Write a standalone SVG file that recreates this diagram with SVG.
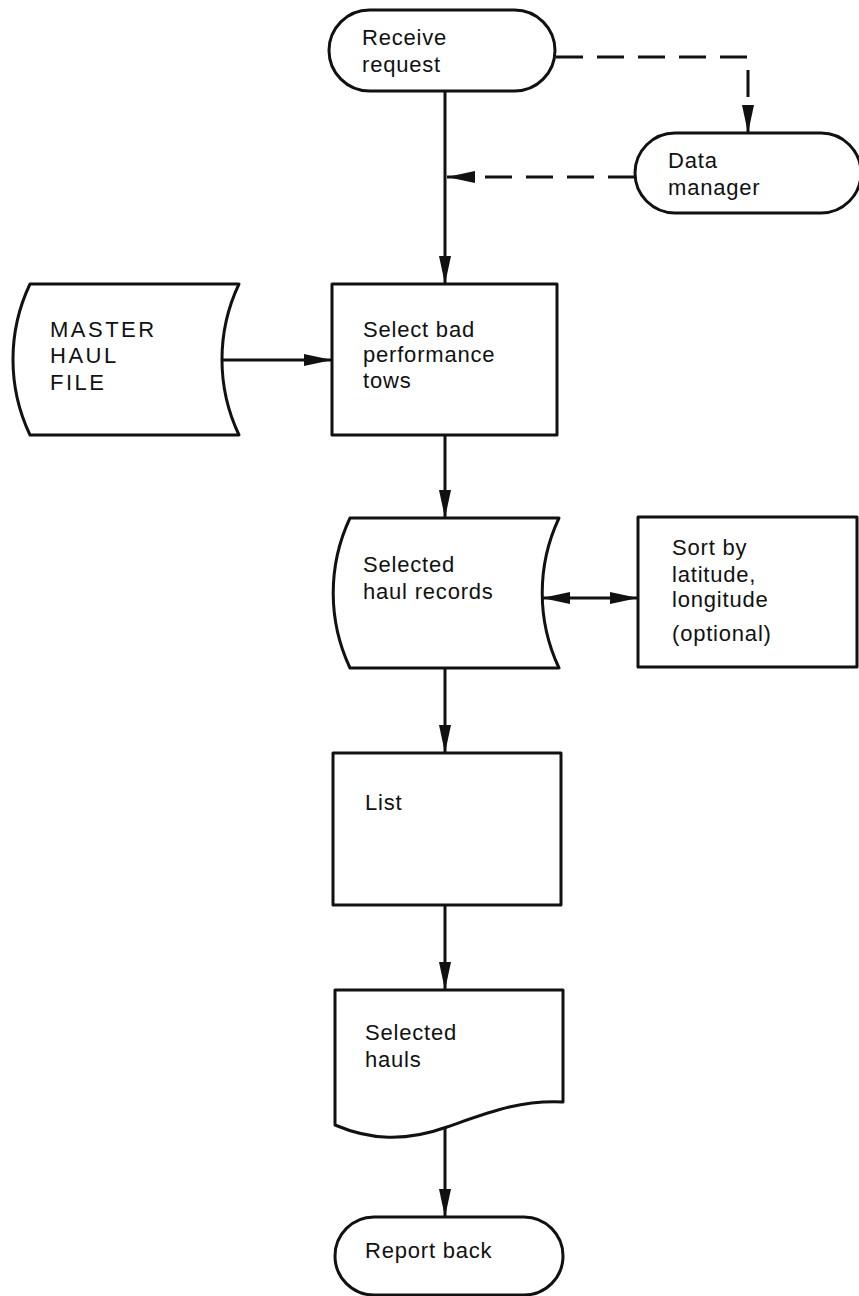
<svg xmlns="http://www.w3.org/2000/svg" width="859" height="1296" viewBox="0 0 859 1296">
<style>
.s{fill:#fff;stroke:#111;stroke-width:3;stroke-linejoin:round}
.t{font-family:"Liberation Sans",Arial,sans-serif;font-size:22px;letter-spacing:0.8px;fill:#111}
.caps{letter-spacing:2.5px}
.c{fill:none;stroke:#111;stroke-width:3}
.d{stroke-dasharray:27 14}
</style>
<defs>
<marker id="ah" markerUnits="userSpaceOnUse" markerWidth="28" markerHeight="12" refX="28" refY="6" orient="auto-start-reverse">
<path d="M0,0 L28,6 L0,12 Z" fill="#111"/>
</marker>
</defs>
<rect width="859" height="1296" fill="#fff"/>
<g id="connectors">
<path class="c" d="M445,91 V284" marker-end="url(#ah)"/>
<path class="c" d="M222,360 H332" marker-end="url(#ah)"/>
<path class="c" d="M445,435 V518" marker-end="url(#ah)"/>
<path class="c" d="M542,598 H638" marker-start="url(#ah)" marker-end="url(#ah)"/>
<path class="c" d="M445,668 V753" marker-end="url(#ah)"/>
<path class="c" d="M445,905 V990" marker-end="url(#ah)"/>
<path class="c" d="M445,1127 V1217" marker-end="url(#ah)"/>
<path class="c d" d="M556,57 H748 V133" marker-end="url(#ah)"/>
<path class="c d" d="M635,177 H447" marker-end="url(#ah)"/>
</g>
<g id="receive">
<rect class="s" x="329" y="10" width="226" height="81" rx="40.5"/>
<text class="t" x="362" y="45">Receive</text>
<text class="t" x="362" y="72">request</text>
</g>
<g id="datamanager">
<rect class="s" x="635" y="133" width="226" height="80" rx="40"/>
<text class="t" x="668" y="168">Data</text>
<text class="t" x="668" y="195">manager</text>
</g>
<g id="masterfile">
<path class="s" d="M30,284 H239 A176,176 0 0,0 239,435 H30 A176,176 0 0,1 30,284 Z"/>
<text class="t caps" x="50" y="337">MASTER</text>
<text class="t caps" x="50" y="363">HAUL</text>
<text class="t caps" x="50" y="390">FILE</text>
</g>
<g id="selectbad">
<rect class="s" x="332" y="284" width="225" height="151"/>
<text class="t" x="363" y="337">Select bad</text>
<text class="t" x="363" y="362">performance</text>
<text class="t" x="363" y="388">tows</text>
</g>
<g id="selectedrecords">
<path class="s" d="M350,518 H559 A176,176 0 0,0 559,668 H350 A176,176 0 0,1 350,518 Z"/>
<text class="t" x="363" y="572">Selected</text>
<text class="t" x="363" y="599">haul records</text>
</g>
<g id="sort">
<rect class="s" x="638" y="517" width="219" height="150"/>
<text class="t" x="672" y="555">Sort by</text>
<text class="t" x="672" y="582">latitude,</text>
<text class="t" x="672" y="607">longitude</text>
<text class="t" x="672" y="641">(optional)</text>
</g>
<g id="list">
<rect class="s" x="333" y="753" width="228" height="152"/>
<text class="t" x="365" y="810">List</text>
</g>
<g id="selectedhauls">
<path class="s" d="M335,990 H563 V1102 C520,1100 490,1112 447,1127 C405,1142 370,1140 335,1125 Z"/>
<text class="t" x="365" y="1040">Selected</text>
<text class="t" x="365" y="1067">hauls</text>
</g>
<g id="report">
<rect class="s" x="335" y="1217" width="228" height="78" rx="39"/>
<text class="t" x="365" y="1258">Report back</text>
</g>
</svg>
